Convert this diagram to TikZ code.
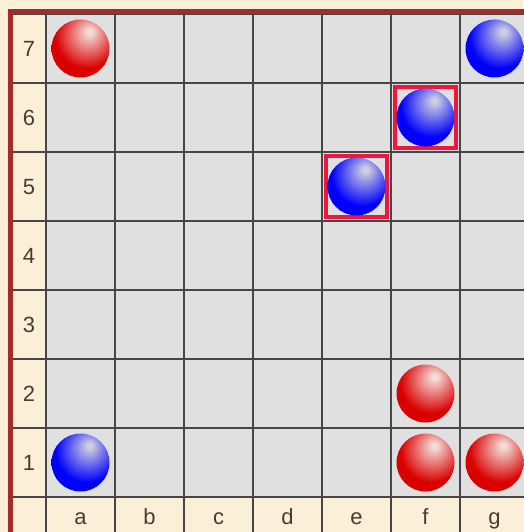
\documentclass[tikz,border=0pt]{standalone}
\usepackage{fontspec}
\setmainfont{Liberation Sans}
\usepackage{xcolor}
\definecolor{boardcream}{RGB}{252,239,216}
\definecolor{cellgray}{RGB}{224,224,224}
\definecolor{gridline}{RGB}{70,70,70}
\definecolor{rimred}{RGB}{166,42,40}
\definecolor{pickred}{RGB}{240,20,62}
\definecolor{labeltext}{RGB}{72,60,50}
\definecolor{pieceRed}{RGB}{218,0,0}
\definecolor{pieceRedHi}{RGB}{244,220,216}
\definecolor{pieceBlue}{RGB}{0,0,252}
\definecolor{pieceBlueHi}{RGB}{206,206,226}
\pgfdeclareradialshading{ballred}{\pgfpoint{8bp}{15bp}}{%
  color(0bp)=(pieceRedHi); color(2bp)=(pieceRedHi);
  color(27bp)=(pieceRed); color(62bp)=(pieceRed!94!black); color(80bp)=(pieceRed!94!black)}
\pgfdeclareradialshading{ballblue}{\pgfpoint{8bp}{15bp}}{%
  color(0bp)=(pieceBlueHi); color(2bp)=(pieceBlueHi);
  color(27bp)=(pieceBlue); color(62bp)=(pieceBlue!94!black); color(80bp)=(pieceBlue!94!black)}

\begin{document}
\begin{tikzpicture}[x=1pt,y=-1pt,
  cell/.style={draw=gridline, line width=2.8pt, fill=cellgray,
               minimum size=69pt, inner sep=0pt},
  lbl/.style={draw=gridline, line width=2.8pt, fill=boardcream, inner sep=0pt,
              text=labeltext, font=\fontsize{22}{24}\selectfont,
              text height=15.5pt, text depth=0pt},
  pick/.style={draw=pickred, line width=4pt, minimum size=61pt, inner sep=0pt},
  piece/.style={circle, minimum size=58pt, inner sep=0pt}]
  \useasboundingbox (0,0) rectangle (523,532);
  \fill[boardcream] (0,0) rectangle (523,532);

  % playing squares
  \foreach \c [count=\i] in {a,b,c,d,e,f,g}
    \foreach \r in {1,...,7}
      \node[cell] (\c\r) at ({80.5+69*(\i-1)},{48.5+69*(7-\r)}) {};

  % rank and file labels
  \foreach \r in {1,...,7}
    \node[lbl, minimum width=34pt, minimum height=69pt] (row\r)
      at (29,{48.5+69*(7-\r)}) {\r};
  \foreach \c [count=\i] in {a,b,c,d,e,f,g}
    \node[lbl, minimum width=69pt, minimum height=40pt] (col\c)
      at ({80.5+69*(\i-1)},517) {\c};
  \node[lbl, minimum width=34pt, minimum height=40pt] (corner) at (29,517) {};

  % frame
  \draw[rimred, line width=5pt] (10.5,540) -- (10.5,11.5) -- (530,11.5);

  % last move
  \node[pick] (pickE5) at (e5) {};
  \node[pick] (pickF6) at (f6) {};

  % stones
  \foreach \s/\col in {a7/red, f2/red, f1/red, g1/red,
                       g7/blue, f6/blue, e5/blue, a1/blue}
    \node[piece, shading=ball\col] (stone\s) at (\s) {};
\end{tikzpicture}
\end{document}
